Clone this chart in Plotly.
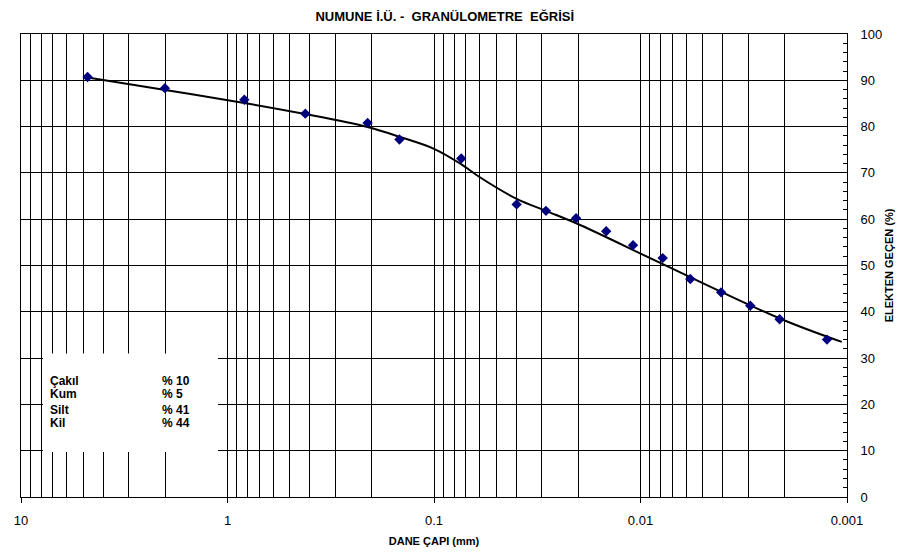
import plotly.graph_objects as go

# Measured points (grain diameter mm, % passing)
dia = [4.76, 2.01, 0.829, 0.420, 0.2097, 0.147, 0.0738, 0.0398, 0.0287, 0.0205,
       0.01466, 0.01087, 0.00781, 0.00574, 0.00407, 0.00294, 0.00212, 0.00125]
passing = [90.7, 88.3, 85.8, 82.8, 80.8, 77.2, 73.1, 63.2, 61.8, 60.2,
           57.4, 54.4, 51.6, 47.1, 44.2, 41.3, 38.4, 34.0]

# Fitted curve
curve_x = [4.76, 2.0, 0.83, 0.42, 0.21, 0.147, 0.10, 0.074, 0.0597, 0.0398,
           0.0287, 0.0195, 0.0078, 0.0021, 0.00106]
curve_y = [90.6, 87.9, 85.1, 82.7, 79.9, 77.8, 75.2, 71.9, 69.0, 64.4,
           61.8, 58.7, 50.3, 38.5, 33.5]

x_ticks = [10, 1, 0.1, 0.01, 0.001]
x_ticktext = ["10", "1", "0.1", "0.01", "0.001"]
minor_vals = [m * d for d in [1, 0.1, 0.01, 0.001] for m in range(2, 10)]

box_labels = ["Çakıl", "Kum", "Silt", "Kil"]
box_values = ["% 10", "% 5", "% 41", "% 44"]
box_y = [25.0, 22.2, 18.7, 15.9]

fig = go.Figure()
fig.add_trace(go.Scatter(x=curve_x, y=curve_y, mode="lines",
                         line=dict(color="black", width=2, shape="spline", smoothing=1.0),
                         hoverinfo="skip", showlegend=False))
fig.add_trace(go.Scatter(x=dia, y=passing, mode="markers",
                         marker=dict(symbol="diamond", size=8, color="#00007F"),
                         showlegend=False))

grid_col = "black"
fig.update_xaxes(type="log", range=[1, -3], autorange=False, automargin=False,
                 tickmode="array", tickvals=x_ticks, ticktext=x_ticktext,
                 ticks="outside", ticklen=5, tickcolor="black",
                 showgrid=True, gridcolor=grid_col, gridwidth=1,
                 showline=True, linecolor="black", linewidth=1, mirror=True,
                 zeroline=False, ticklabelstandoff=6,
                 minor=dict(tickmode="array", tickvals=minor_vals, showgrid=True,
                            gridcolor=grid_col, gridwidth=1, ticks=""),
                 tickfont=dict(family="Liberation Sans, Arial", size=13, color="black"),
                 title=dict(text="<b>DANE ÇAPI (mm)</b>", standoff=10,
                            font=dict(family="Liberation Sans Narrow, Liberation Sans, Arial",
                                      size=11, color="black")))
fig.update_yaxes(range=[0, 100], autorange=False, automargin=False, dtick=10, side="right",
                 showgrid=True, gridcolor=grid_col, gridwidth=1,
                 showline=True, linecolor="black", linewidth=1, mirror=True,
                 zeroline=False, ticks="", ticklabelstandoff=10,
                 minor=dict(dtick=2, ticks="inside", ticklen=4, tickcolor="black", showgrid=False),
                 tickfont=dict(family="Liberation Sans, Arial", size=13, color="black"),
                 title=dict(text="<b>ELEKTEN GEÇEN (%)</b>", standoff=3,
                            font=dict(family="Liberation Sans Narrow, Liberation Sans, Arial",
                                      size=11, color="black")))

fig.add_shape(type="rect", xref="paper", yref="y", x0=0.0266, x1=0.2385, y0=9.7, y1=31.0,
              fillcolor="white", line=dict(width=0), layer="above")

for lab, val, yy in zip(box_labels, box_values, box_y):
    fig.add_annotation(x=0.033, y=yy, xref="paper", yref="y", text="<b>" + lab + "</b>",
                       showarrow=False, xanchor="left",
                       font=dict(family="Liberation Sans, Arial", size=12, color="black"))
    fig.add_annotation(x=0.168, y=yy, xref="paper", yref="y", text="<b>" + val + "</b>",
                       showarrow=False, xanchor="left",
                       font=dict(family="Liberation Sans, Arial", size=12, color="black"))

fig.update_layout(
    width=904, height=554,
    margin=dict(l=21, r=57, t=34, b=57),
    paper_bgcolor="white", plot_bgcolor="white",
    title=dict(text="<b>NUMUNE İ.Ü. -  GRANÜLOMETRE  EĞRİSİ</b>", x=0.492, xanchor="center",
               y=0.971, yanchor="middle",
               font=dict(family="Liberation Sans Narrow, Liberation Sans, Arial", size=13, color="black")),
)

fig.write_html("out.html")
